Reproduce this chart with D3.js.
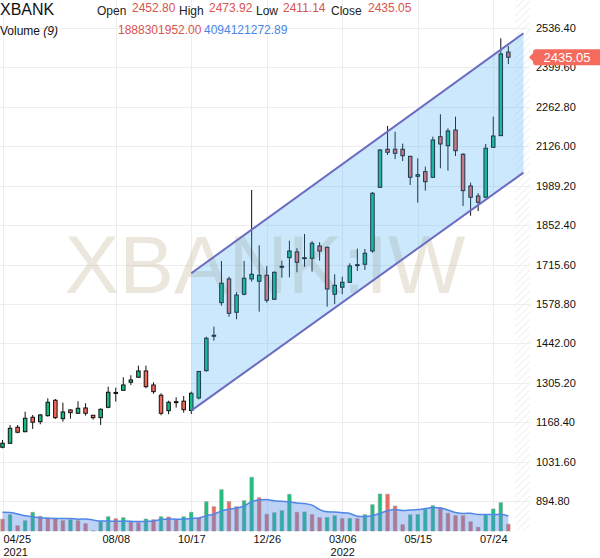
<!DOCTYPE html>
<html>
<head>
<meta charset="utf-8">
<script src="https://cdn.jsdelivr.net/npm/d3@7"></script>
<style>
  html, body { margin: 0; padding: 0; background: #fff; }
  svg { display: block; font-family: "Liberation Sans", Arial, sans-serif; }
</style>
</head>
<body>
<svg id="chart" width="600" height="558"></svg>
<script>
// Data (weekly candles)
const symbol = "XBANK";
const watermark = "XBANK:IW";
const firstWeek = "2021-04-25";

const open = [1081.3,1095.2,1150.7,1135.4,1185.4,1170.1,1191.0,1244.4,1180.6,1210.8,
  1199.3,1217.7,1192.4,1184.0,1220.1,1268.7,1279.1,1306.9,1324.2,1346.1,
  1297.5,1261.8,1208.3,1237.5,1241.3,1209.0,1252.4,1347.1,1466.5,1583.1,
  1665.4,1549.8,1612.3,1665.4,1657.4,1678.2,1594.9,1706.0,1739.3,1759.1,
  1737.2,1737.2,1779.9,1775.4,1612.3,1636.6,1653.9,1712.9,1716.4,1762.5,
  1983.6,2115.5,2115.5,2115.5,2091.2,2021.8,2037.7,2018.3,2159.2,2128.0,
  2182.4,2098.1,1988.1,1953.4,1948.9,2122.4,2162.7,2452.80];
const high = [1106.6,1158.7,1158.7,1204.9,1193.4,1196.9,1251.4,1248.9,1236.1,1213.2,
  1240.9,1234.0,1193.5,1216.0,1291.6,1288.1,1324.2,1331.2,1364.5,1364.5,
  1306.9,1268.7,1243.0,1254.8,1259.3,1274.3,1346.1,1465.1,1499.8,1727.8,
  1673.3,1619.2,1727.8,1974.2,1782.3,1710.5,1691.4,1728.9,1798.3,1771.9,
  1821.5,1797.2,1792.7,1777.5,1681.7,1673.3,1719.8,1770.5,1769.5,1967.3,
  2116.5,2196.3,2176.5,2134.9,2092.2,2084.2,2055.1,2159.2,2236.9,2188.3,
  2228.6,2101.6,1999.6,1962.8,2133.9,2228.6,2500.7,2473.92];
const low = [1077.8,1092.8,1129.9,1133.4,1144.8,1161.1,1187.5,1179.5,1170.1,1180.6,
  1196.9,1191.0,1177.1,1158.7,1216.6,1239.6,1277.7,1297.5,1321.8,1286.1,
  1267.3,1192.4,1195.8,1218.7,1201.4,1196.9,1247.2,1343.7,1451.2,1572.7,
  1534.5,1525.5,1608.8,1656.0,1551.9,1583.1,1592.5,1669.9,1671.3,1688.6,
  1708.0,1690.7,1728.9,1569.2,1578.6,1612.3,1651.5,1693.1,1696.6,1756.6,
  1981.2,2095.7,2081.8,2074.9,1991.6,1930.1,1971.8,2015.9,2049.5,2041.2,
  2092.2,1918.7,1885.0,1901.3,1946.5,2120.0,2161.6,2411.14];
const close = [1095.2,1147.2,1133.4,1181.9,1168.1,1193.4,1237.5,1184.0,1203.8,1201.4,
  1216.6,1199.3,1184.0,1213.2,1272.2,1271.5,1297.5,1314.9,1346.1,1291.6,
  1274.3,1199.3,1237.5,1239.6,1211.8,1268.7,1344.4,1459.6,1470.0,1650.4,
  1546.3,1609.8,1667.8,1681.7,1678.2,1591.4,1688.6,1709.4,1762.5,1723.3,
  1739.3,1789.3,1762.5,1630.7,1643.5,1653.9,1710.5,1715.0,1754.5,1962.8,
  2113.0,2105.0,2101.6,2093.2,2018.3,2027.3,2003.0,2147.7,2133.9,2179.0,
  2110.6,1971.8,1948.9,1931.5,2118.9,2161.6,2446.2,2435.05];
// volume in billions
const volume = [3.25,4.53,1.47,2.86,5.19,4.08,3.61,3.56,2.86,3.14,
  2.86,2.03,0.05,2.69,3.97,3.42,3.69,2.50,2.31,3.33,
  3.14,3.97,3.89,3.25,3.97,5.19,3.61,8.14,6.75,11.47,
  8.14,6.75,8.42,14.92,9.25,4.64,5.08,5.64,10.19,5.19,
  5.28,4.53,3.69,3.75,4.22,3.42,3.47,3.44,4.53,7.31,
  10.28,10.22,6.94,1.75,4.50,4.56,6.03,7.03,6.47,4.92,
  4.25,4.22,2.58,1.03,4.44,6.11,7.86,1.89];
// MA(9) of the first weeks, whose earlier volumes are off the chart
const volumeMaLead = [5.19,5.14,4.72,4.22,3.94,3.69,3.56,3.47];
const maPeriod = 9;

const priceTicks = [2536.40,2399.60,2262.80,2126.00,1989.20,1852.40,1715.60,
  1578.80,1442.00,1305.20,1168.40,1031.60,894.80];
const tickDates = ["2021-04-25","2021-08-08","2021-10-17","2021-12-26","2022-03-06","2022-05-15","2022-07-24"];
const tickYears = ["2021","","","","2022","",""];

const channelDates = ["2021-10-17","2022-08-21"];
const channelUpper = [1685.1, 2518.0];
const channelLower = [1208.3, 2034.3];

const headerOHLC = [["Open","2452.80"],["High","2473.92"],["Low","2411.14"],["Close","2435.05"]];
const headerVolume = ["1888301952.00","4094121272.89"];
const lastPriceLabel = "2435.05";

// Colours
const UP = "#12bb82", DOWN = "#f4675b";
const VOL_UP = "#17c47e", VOL_DOWN = "#f4695c";

const parse = d3.timeParse("%Y-%m-%d");
const start = parse(firstWeek);
const dates = d3.timeWeek.range(start, d3.timeWeek.offset(start, open.length));
const candles = dates.map((d, i) => ({
  date: d, o: open[i], h: high[i], l: low[i], c: close[i], v: volume[i],
  ma: i < maPeriod - 1 ? volumeMaLead[i] : d3.mean(volume.slice(i - maPeriod + 1, i + 1))
}));

const svg = d3.select("#chart");
const plotRight = 530, volBase = 531;

const x = d3.scaleTime().domain([dates[0], dates[dates.length - 1]]).range([2.5, 508.35]);
const step = x(dates[1]) - x(dates[0]);
const y = d3.scaleLinear().domain([894.8, 2536.4]).range([501, 28]);
const yv = d3.scaleLinear().domain([0, 20]).range([volBase, volBase - 72]);

// hatched future area
const defs = svg.append("defs");
const pat = defs.append("pattern").attr("id", "hatch").attr("patternUnits", "userSpaceOnUse")
  .attr("width", 5).attr("height", 5).attr("patternTransform", "rotate(45)");
pat.append("line").attr("x1", 0).attr("y1", 0).attr("x2", 0).attr("y2", 5)
  .attr("stroke", "#e6e6e6").attr("stroke-width", 1.2);

const hatchX = x(dates[dates.length - 1]) + step * 0.9;
svg.append("rect").attr("x", hatchX).attr("y", 0)
  .attr("width", plotRight - hatchX).attr("height", volBase)
  .attr("fill", "url(#hatch)");

// grid
svg.append("g").selectAll("line").data(priceTicks).join("line")
  .attr("x1", 0).attr("x2", plotRight)
  .attr("y1", d => Math.round(y(d)) + 0.5).attr("y2", d => Math.round(y(d)) + 0.5)
  .attr("stroke", "#ededed");
svg.append("g").selectAll("line").data(tickDates.map(parse)).join("line")
  .attr("x1", d => Math.round(x(d)) + 0.5).attr("x2", d => Math.round(x(d)) + 0.5)
  .attr("y1", 0).attr("y2", volBase)
  .attr("stroke", "#ededed");

// watermark
svg.append("text").attr("x", 265).attr("y", 293)
  .attr("text-anchor", "middle")
  .style("font-size", "82px")
  .attr("fill", "rgba(190,175,140,0.3)")
  .text(watermark);

// candles
const cg = svg.append("g");
cg.selectAll("line").data(candles).join("line")
  .attr("x1", d => x(d.date)).attr("x2", d => x(d.date))
  .attr("y1", d => y(d.h)).attr("y2", d => y(d.l))
  .attr("stroke", "#111").attr("stroke-width", 1);
cg.selectAll("rect").data(candles).join("rect")
  .attr("x", d => x(d.date) - 1.75)
  .attr("y", d => y(Math.max(d.o, d.c)))
  .attr("width", 3.5)
  .attr("height", d => Math.max(1, Math.abs(y(d.o) - y(d.c))))
  .attr("fill", d => d.c >= d.o ? UP : DOWN)
  .attr("stroke", "#111").attr("stroke-width", 1);

// channel
const cd = channelDates.map(parse);
const poly = [[x(cd[0]), y(channelUpper[0])], [x(cd[1]), y(channelUpper[1])],
              [x(cd[1]), y(channelLower[1])], [x(cd[0]), y(channelLower[0])]];
svg.append("polygon").attr("points", poly.map(p => p.join(",")).join(" "))
  .attr("fill", "rgba(66,170,245,0.27)");
[channelUpper, channelLower].forEach(vals => {
  svg.append("line")
    .attr("x1", x(cd[0])).attr("y1", y(vals[0]))
    .attr("x2", x(cd[1])).attr("y2", y(vals[1]))
    .attr("stroke", "#6c6cc0").attr("stroke-width", 2);
});

// volume
svg.append("g").selectAll("rect").data(candles).join("rect")
  .attr("x", d => x(d.date) - 1.75)
  .attr("y", d => yv(d.v))
  .attr("width", 3.5)
  .attr("height", d => volBase - yv(d.v))
  .attr("fill", (d, i) => i > 0 && d.v > candles[i - 1].v ? VOL_UP : VOL_DOWN)
  .attr("stroke", "rgba(150,150,150,0.55)").attr("stroke-width", 1);

const area = d3.area().curve(d3.curveMonotoneX)
  .x(d => x(d.date)).y0(volBase).y1(d => yv(d.ma));
svg.append("path").datum(candles).attr("d", area)
  .attr("fill", "rgba(81,137,229,0.38)");
svg.append("path").datum(candles).attr("d", area.lineY1())
  .attr("fill", "none").attr("stroke", "#4f86e8").attr("stroke-width", 1.5);

// x axis
const xAxis = svg.append("g").attr("transform", `translate(0,${volBase})`)
  .call(d3.axisBottom(x).tickValues(tickDates.map(parse)).tickSize(0).tickPadding(4.2)
    .tickFormat(d3.timeFormat("%m/%d")));
xAxis.select(".domain").remove();
xAxis.selectAll("text").style("font-size", "11px").attr("fill", "#111")
  .style("font-family", "'Liberation Sans', Arial, sans-serif");
xAxis.selectAll(".tick").each(function(d, i) {
  const t = d3.select(this);
  if (i === 0) t.select("text").attr("text-anchor", "start").attr("x", 0.5);
  if (tickYears[i]) {
    t.append("text").attr("y", 24.5)
      .attr("x", i === 0 ? 0.5 : 0)
      .attr("text-anchor", i === 0 ? "start" : "middle")
      .attr("fill", "#111")
      .style("font-size", "11px")
      .text(tickYears[i]);
  }
});

// y axis
const yAxis = svg.append("g").attr("transform", `translate(${plotRight},0)`)
  .call(d3.axisRight(y).tickValues(priceTicks).tickSize(0).tickPadding(6)
    .tickFormat(d3.format(".2f")));
yAxis.select(".domain").remove();
yAxis.selectAll("text").style("font-size", "11px").attr("fill", "#111")
  .style("font-family", "'Liberation Sans', Arial, sans-serif");

// last price tag
const yc = y(close[close.length - 1]);
svg.append("path")
  .attr("d", `M529,${yc} L533,${yc - 4} L533,${yc - 5} Q533,${yc - 8} 536,${yc - 8} L600,${yc - 8} L600,${yc + 8} L536,${yc + 8} Q533,${yc + 8} 533,${yc + 5} L533,${yc + 4} Z`)
  .attr("fill", "#f56b5e");
svg.append("text").attr("x", 567).attr("y", yc + 4.5)
  .attr("text-anchor", "middle").attr("fill", "#fff")
  .style("font-size", "13px")
  .text(lastPriceLabel);

// header
svg.append("text").attr("x", 0).attr("y", 15).style("font-size", "16px")
  .attr("fill", "#111").text(symbol);
const labelX = [97, 179, 256, 331], valueX = [132, 209, 283, 368];
headerOHLC.forEach(([lab, val], i) => {
  svg.append("text").attr("x", labelX[i]).attr("y", 15.3).style("font-size", "12px")
    .attr("fill", "#222").text(lab);
  svg.append("text").attr("x", valueX[i]).attr("y", 12).style("font-size", "12px")
    .attr("fill", "#d9534f").text(val);
});
const vt = svg.append("text").attr("x", 0).attr("y", 34.5).style("font-size", "12px").attr("fill", "#111");
vt.append("tspan").text("Volume ");
vt.append("tspan").style("font-style", "italic").text("(9)");
svg.append("text").attr("x", 118).attr("y", 34.3).style("font-size", "12px")
  .attr("fill", "#d9534f").text(headerVolume[0]);
svg.append("text").attr("x", 204).attr("y", 34.3).style("font-size", "12px")
  .attr("fill", "#4a86e8").text(headerVolume[1]);
</script>
</body>
</html>
